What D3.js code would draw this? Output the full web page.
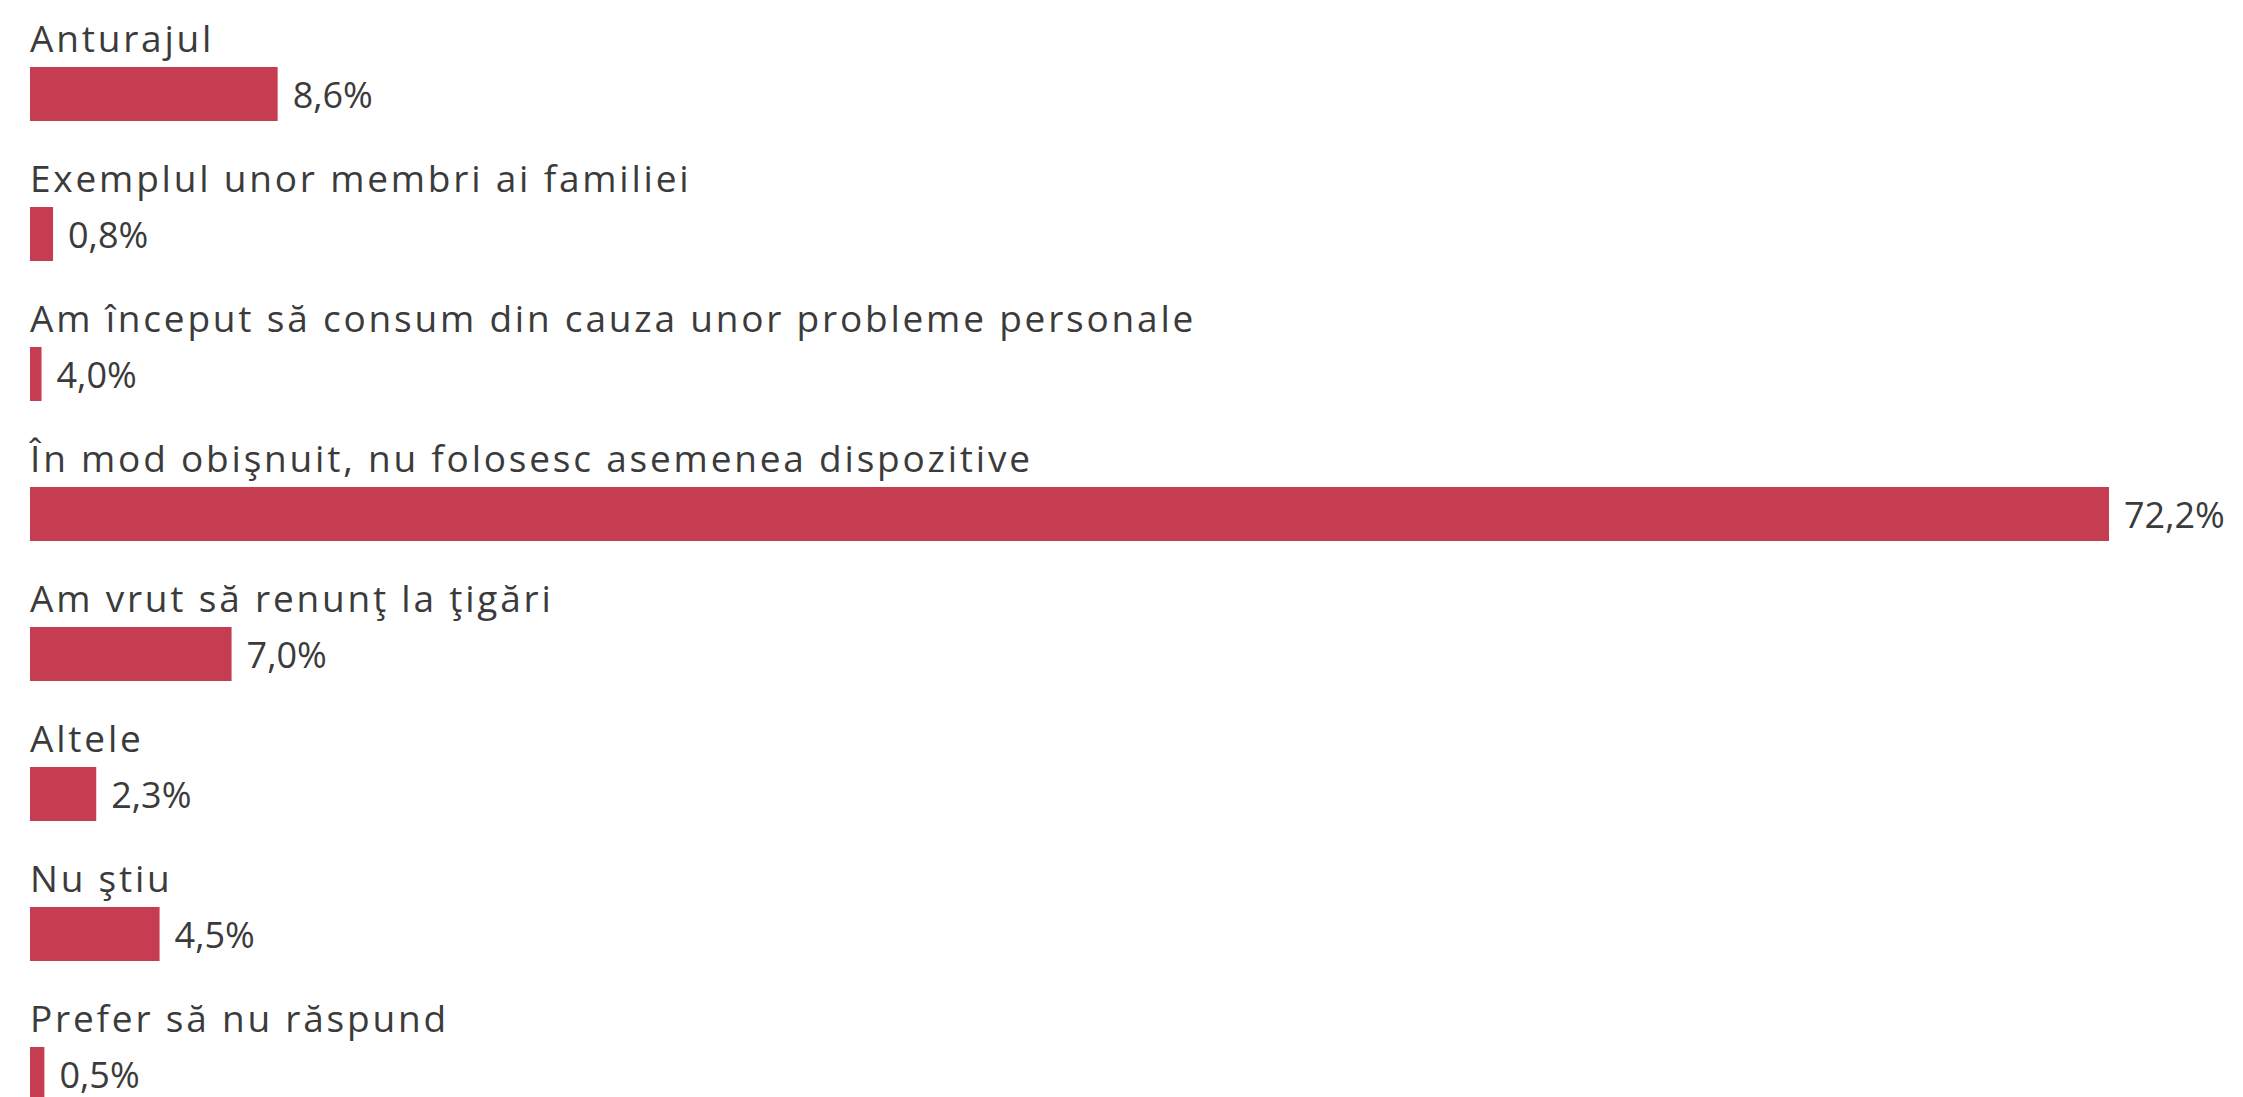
<!DOCTYPE html>
<html>
<head>
<meta charset="utf-8">
<script src="https://cdn.jsdelivr.net/npm/d3@7"></script>
<style>
  html, body { margin: 0; padding: 0; background: #ffffff; overflow: hidden; }
  svg { display: block; }
</style>
</head>
<body>
<svg id="chart" width="2243" height="1097"></svg>
<script>
const categories = [
  "Anturajul",
  "Exemplul unor membri ai familiei",
  "Am început să consum din cauza unor probleme personale",
  "În mod obişnuit, nu folosesc asemenea dispozitive",
  "Am vrut să renunţ la ţigări",
  "Altele",
  "Nu ştiu",
  "Prefer să nu răspund"
];
// bar lengths as drawn in the reference (percent)
const values = [8.6, 0.8, 0.4, 72.2, 7.0, 2.3, 4.5, 0.5];
// value labels as printed in the reference
const valueLabels = ["8,6%", "0,8%", "4,0%", "72,2%", "7,0%", "2,3%", "4,5%", "0,5%"];

const W = 2243, H = 1097;
const left = 30;
const barColor = "#C63C50";
const textColor = "#3b3b3b";
const fontFamily = "'Open Sans', 'Noto Sans', sans-serif";

const svg = d3.select("#chart");

const x = d3.scaleLinear().domain([0, 72.2]).range([left, 2109]);
const y = d3.scaleBand().domain(d3.range(categories.length))
  .range([42, 42 + 140 * categories.length]).paddingInner(0).paddingOuter(0);

const rowH = 54;
const rows = svg.selectAll("g.row").data(categories).join("g").attr("class", "row")
  .attr("transform", (d, i) => `translate(0, ${y(i)})`);

rows.append("text")
  .attr("x", left)
  .attr("y", 10)
  .attr("fill", textColor)
  .attr("font-family", fontFamily)
  .attr("font-size", 37)
  .attr("letter-spacing", 2.8)
  .text(d => d);

rows.append("rect")
  .attr("x", x(0))
  .attr("y", 25)
  .attr("width", (d, i) => x(values[i]) - x(0))
  .attr("height", rowH)
  .attr("fill", barColor);

rows.append("text")
  .attr("x", (d, i) => x(values[i]) + 15)
  .attr("y", 25 + rowH / 2 + 14)
  .attr("fill", textColor)
  .attr("font-family", fontFamily)
  .attr("font-size", 36)
  .text((d, i) => valueLabels[i]);
</script>
</body>
</html>
